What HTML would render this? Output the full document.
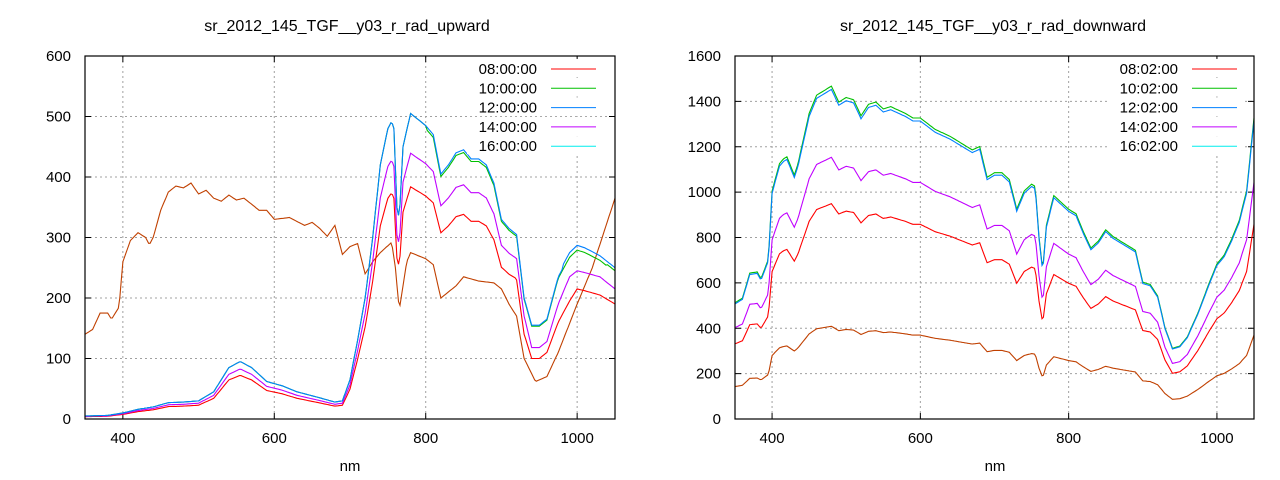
<!DOCTYPE html>
<html><head><meta charset="utf-8"><style>
html,body{margin:0;padding:0;background:#fff;}
svg{display:block;font-family:"Liberation Sans",sans-serif;}
</style></head><body>
<svg id="s" width="1280" height="480" xmlns="http://www.w3.org/2000/svg">
<text x="347" y="31" font-size="16" text-anchor="middle">sr_2012_145_TGF__y03_r_rad_upward</text>
<text x="993" y="31" font-size="16" text-anchor="middle">sr_2012_145_TGF__y03_r_rad_downward</text>
<text x="350" y="471" font-size="15" text-anchor="middle">nm</text>
<text x="995" y="471" font-size="15" text-anchor="middle">nm</text>
</svg>
<script>
var S=document.getElementById('s'),NS='http://www.w3.org/2000/svg';
function el(t,a,txt){var e=document.createElementNS(NS,t);for(var k in a)e.setAttribute(k,a[k]);if(txt!=null)e.textContent=txt;S.appendChild(e);return e;}
function P(str){return str.trim().split(/\s+/).map(function(p){var q=p.split(':');return[+q[0],+q[1]];});}
function interp(pts,x){if(x<=pts[0][0])return pts[0][1];for(var i=1;i<pts.length;i++){if(x<=pts[i][0]){var a=pts[i-1],b=pts[i];return a[1]+(b[1]-a[1])*(x-a[0])/(b[0]-a[0]);}}return pts[pts.length-1][1];}
function plot(o){
 var X=function(n){return o.x0+(n-350)/700*(o.x1-o.x0);},Y=function(v){return o.y1-v/o.ymax*(o.y1-o.y0);};
 [400,600,800,1000].forEach(function(n){el('line',{x1:X(n),x2:X(n),y1:o.y0,y2:o.y1,stroke:'#a0a0a0','stroke-dasharray':'2,3','stroke-width':1});
  el('line',{x1:X(n),x2:X(n),y1:o.y1,y2:o.y1-6,stroke:'#000'});el('line',{x1:X(n),x2:X(n),y1:o.y0,y2:o.y0+6,stroke:'#000'});
  el('text',{x:X(n),y:o.y1+24,'font-size':15,'text-anchor':'middle'},n);});
 for(var v=0;v<=o.ymax;v+=o.ystep){var y=Y(v);
  if(v>0&&v<o.ymax)el('line',{x1:o.x0,x2:o.x1,y1:y,y2:y,stroke:'#a0a0a0','stroke-dasharray':'2,3'});
  el('line',{x1:o.x0,x2:o.x0+6,y1:y,y2:y,stroke:'#000'});el('line',{x1:o.x1,x2:o.x1-6,y1:y,y2:y,stroke:'#000'});
  el('text',{x:o.x0-14,y:y+5,'font-size':15,'text-anchor':'end'},v);}
 o.series.forEach(function(s){var d='';for(var n=350;n<=1050;n+=2){var v=s.f(n);d+=(n==350?'M':'L')+X(n).toFixed(1)+','+Y(v).toFixed(1);}
  el('path',{d:d,fill:'none',stroke:s.c,'stroke-width':1.1});});
 o.leg.forEach(function(l,i){var y=o.y0+13+i*19.3;
  el('rect',{x:o.lx-70,y:y-10,width:o.x1-o.lx+60,height:18,fill:'#fff'});});
 o.leg.forEach(function(l,i){var y=o.y0+13+i*19.3;
  el('text',{x:o.lx,y:y+5,'font-size':15,'text-anchor':'end'},l[0]);
  el('line',{x1:o.lx+14,x2:o.lx+59,y1:y,y2:y,stroke:l[1],'stroke-width':1});});
 el('rect',{x:o.x0,y:o.y0,width:o.x1-o.x0,height:o.y1-o.y0,fill:'none',stroke:'#000','stroke-width':1.2});
}
var UB=P("350:5 380:6 400:10 420:16 440:20 460:27 480:28 500:30 520:45 540:85 555:95 570:85 590:62 610:55 630:45 660:35 680:28 690:30 700:65 710:130 720:200 730:300 740:420 750:480 755:492 758:480 762:350 765:330 770:450 780:505 790:495 800:485 810:470 820:405 830:420 840:440 850:445 860:430 870:430 880:420 890:390 900:330 910:315 920:305 930:200 940:155 950:155 960:165 975:235 990:270 1000:282 1010:278 1030:265 1050:245");
function tailf(base,fac,tail){return function(n){var v=interp(base,n)*fac;if(n>=920){return interp(tail,n);}return v;};}
var UP=P("920:265 930:170 940:118 950:118 960:128 975:190 990:235 1000:245 1010:242 1030:235 1050:215");
var UR=P("920:230 930:140 940:100 950:100 960:110 975:160 990:195 1000:215 1010:212 1030:205 1050:190");
var UBR=P("350:140 360:148 370:175 380:175 385:165 395:185 400:260 410:295 420:308 430:300 435:288 440:300 450:345 460:375 470:385 480:382 490:390 500:372 510:378 520:365 530:360 540:370 550:362 560:365 580:345 590:345 600:330 620:333 640:320 650:325 660:315 670:302 680:320 690:272 700:285 710:290 720:240 730:260 740:275 755:292 760:250 765:180 775:260 780:275 800:265 810:255 820:200 840:220 850:235 870:228 890:225 900:215 910:190 920:170 930:100 945:62 960:70 975:110 1000:190 1020:250 1050:365");
plot({x0:85,x1:615,y0:56,y1:419,ymax:600,ystep:100,lx:537,
 leg:[["08:00:00","#ff0000"],["10:00:00","#00c000"],["12:00:00","#0080ff"],["14:00:00","#c000ff"],["16:00:00","#00eeee"]],
 series:[
  {c:'#c04000',f:function(n){return interp(UBR,n);}},
  {c:'#ff0000',f:tailf(UB,0.76,UR)},
  {c:'#c000ff',f:tailf(UB,0.87,UP)},
  {c:'#00c000',f:function(n){var v=interp(UB,n);return n>800&&n<1040?v*0.99:v;}},
  {c:'#0080ff',f:function(n){return interp(UB,n)+(n>980?5:0);}}
 ]});
var DB=P("350:510 360:530 370:640 380:645 385:615 395:700 400:1000 410:1120 415:1140 420:1150 430:1070 435:1120 450:1340 460:1420 470:1440 480:1460 490:1390 500:1410 510:1400 520:1330 530:1380 540:1390 550:1360 560:1370 580:1340 590:1320 600:1320 620:1270 640:1240 650:1220 660:1200 670:1180 680:1195 690:1060 700:1080 710:1080 720:1050 730:920 740:1000 750:1030 755:1020 760:800 765:650 770:850 780:980 790:950 800:920 810:900 820:820 830:750 840:780 850:830 860:800 870:780 880:760 890:740 900:600 910:590 920:540 930:400 940:310 950:320 960:360 975:470 990:600 1000:680 1010:720 1020:790 1030:870 1040:1000 1050:1320");
function sc(f){return function(n){return interp(DB,n)*f;};}
plot({x0:735,x1:1254,y0:56,y1:419,ymax:1600,ystep:200,lx:1178,
 leg:[["08:02:00","#ff0000"],["10:02:00","#00c000"],["12:02:00","#0080ff"],["14:02:00","#c000ff"],["16:02:00","#00eeee"]],
 series:[
  {c:'#c04000',f:sc(0.28)},
  {c:'#ff0000',f:sc(0.65)},
  {c:'#c000ff',f:sc(0.79)},
  {c:'#00c000',f:sc(1.005)},
  {c:'#0080ff',f:sc(0.995)}
 ]});
</script>
</body></html>
